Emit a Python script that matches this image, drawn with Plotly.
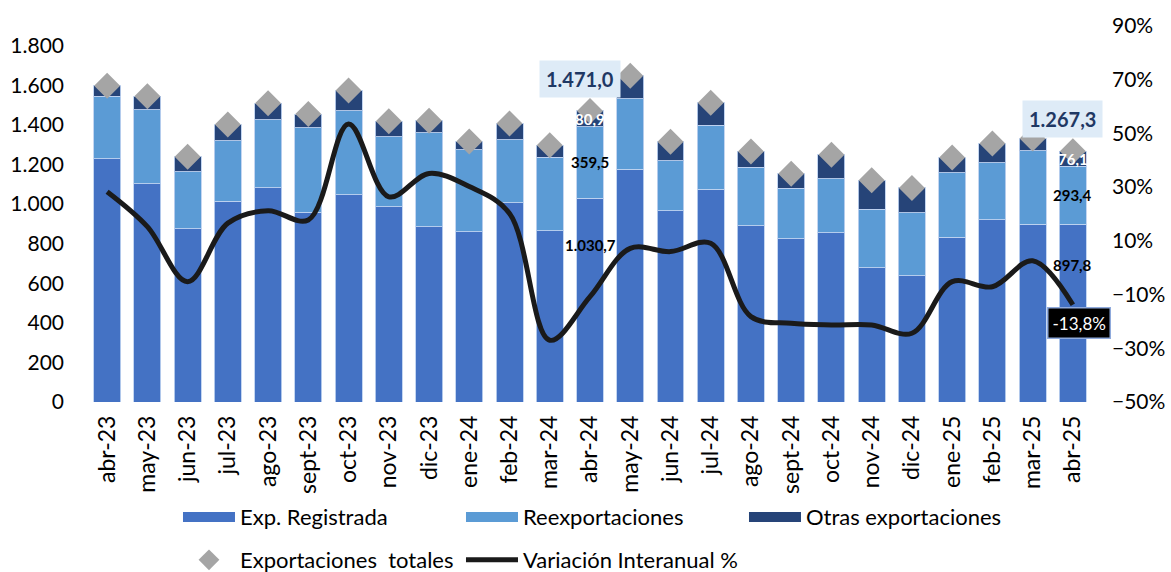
import plotly.graph_objects as go

meses = ["abr-23", "may-23", "jun-23", "jul-23", "ago-23", "sept-23", "oct-23", "nov-23", "dic-23",
         "ene-24", "feb-24", "mar-24", "abr-24", "may-24", "jun-24", "jul-24", "ago-24", "sept-24",
         "oct-24", "nov-24", "dic-24", "ene-25", "feb-25", "mar-25", "abr-25"]

exp_registrada = [1229, 1104, 876, 1015, 1083, 959, 1048, 987, 886, 861, 1008, 866, 1030.7,
                  1175, 967, 1075, 891, 826, 856, 679, 639, 833, 922, 898, 897.8]
reexportaciones = [316, 372, 287, 306, 343, 426, 423, 353, 474, 413, 317, 371, 359.5,
                   357, 253, 324, 296, 254, 271, 295, 317, 326, 286, 371, 293.4]
otras_exp = [53, 69, 76, 81, 84, 70, 103, 79, 61, 42, 82, 61, 80.9,
             116, 95, 113, 79, 73, 122, 147, 126, 76, 98, 62, 76.1]
variacion = [28.3, 15.3, -5.2, 16.6, 21.2, 17.8, 53.5, 26.4, 35.1, 30.2, 20.2, -27.0, -10.8,
             7.2, 6.0, 9.1, -18.2, -20.7, -21.3, -21.3, -24.4, -5.2, -7.1, 2.6, -13.8]

# meses etiquetados y total publicado
meses_etiqueta = ["abr-24", "abr-25"]
total_publicado = [1471.0, 1267.3]

totales = [a + b + c for a, b, c in zip(exp_registrada, reexportaciones, otras_exp)]

FONT = "Lato"
C_REG = "#4472C4"
C_REEX = "#5B9BD5"
C_OTRAS = "#264478"
edge = dict(color="rgba(190,210,240,0.9)", width=1)


def fmt(v):
    return f"{v:,.1f}".replace(",", "X").replace(".", ",").replace("X", ".")


fig = go.Figure()

for name, vals, col in [("Exp. Registrada", exp_registrada, C_REG),
                        ("Reexportaciones", reexportaciones, C_REEX),
                        ("Otras exportaciones", otras_exp, C_OTRAS)]:
    fig.add_trace(go.Bar(x=meses, y=vals, name=name, marker=dict(color=col, line=edge),
                         showlegend=False))

fig.add_trace(go.Scatter(x=meses, y=totales, mode="markers", name="Exportaciones  totales",
                         marker=dict(symbol="diamond", size=20, color="#A5A5A5"),
                         legend="legend2"))
fig.add_trace(go.Scatter(x=meses, y=variacion, mode="lines", name="Variación Interanual %",
                         yaxis="y2", line=dict(color="#1A1A1A", width=5, shape="spline", smoothing=1),
                         legend="legend2"))

# legend entries for the bars (wide swatches)
for name, col in [("Exp. Registrada", C_REG), ("Reexportaciones", C_REEX),
                  ("Otras exportaciones", C_OTRAS)]:
    fig.add_trace(go.Scatter(x=[None], y=[None], mode="lines", name=name,
                             line=dict(color=col, width=18), legend="legend"))

# data labels for abr-24 and abr-25
for m, tot in zip(meses_etiqueta, total_publicado):
    i = meses.index(m)
    reg, rex, otr = exp_registrada[i], reexportaciones[i], otras_exp[i]
    fig.add_annotation(x=m, y=reg * 0.77, text="<b>" + fmt(reg) + "</b>", showarrow=False,
                       font=dict(size=15, color="black", family=FONT))
    fig.add_annotation(x=m, y=reg + rex / 2, text="<b>" + fmt(rex) + "</b>", showarrow=False,
                       font=dict(size=15, color="black", family=FONT))
    fig.add_annotation(x=m, y=reg + rex + otr / 2, text="<b>" + fmt(otr) + "</b>",
                       showarrow=False, font=dict(size=15, color="white", family=FONT))
    fig.add_annotation(x=m, y=totales[i], text="<b>" + fmt(tot) + "</b>",
                       showarrow=False, yshift=32, xshift=-10, bgcolor="#DEEBF7",
                       borderpad=6, font=dict(size=20, color="#1F3864", family=FONT))

fig.add_annotation(x=meses[-1], y=variacion[-1], yref="y2",
                   text=f"{variacion[-1]:.1f}%".replace(".", ","), showarrow=False,
                   yshift=-18, xshift=6, bgcolor="black", bordercolor="#8FAADC", borderwidth=1.5,
                   borderpad=4, font=dict(size=17, color="white", family=FONT))

leg_common = dict(orientation="h", xanchor="left", yanchor="middle", xref="container",
                  yref="container", entrywidth=216, entrywidthmode="pixels", itemwidth=52,
                  traceorder="normal",
                  font=dict(size=22, color="black", family=FONT), bgcolor="rgba(0,0,0,0)")

fig.update_layout(
    width=1171,
    height=572,
    barmode="stack",
    bargap=0.33,
    separators=",.",
    plot_bgcolor="white",
    paper_bgcolor="white",
    margin=dict(l=87, r=78, t=26, b=170, autoexpand=False),
    font=dict(family=FONT, size=20, color="black"),
    xaxis=dict(tickangle=-90, showgrid=False, ticks="", showline=False, automargin=False,
               range=[-0.5, len(meses) - 0.5], tickfont=dict(size=23), ticklabelstandoff=8),
    yaxis=dict(range=[0, 1900], dtick=200, tickformat=",d", showgrid=False, zeroline=False,
               automargin=False, ticklabelstandoff=22, tickfont=dict(size=21)),
    yaxis2=dict(range=[-50, 90], tick0=10, dtick=20, ticksuffix="%", overlaying="y", side="right",
                showgrid=False, zeroline=False, automargin=False, ticklabelstandoff=18,
                tickfont=dict(size=21)),
    legend=dict(x=0.152, y=0.096, **leg_common),
    legend2=dict(x=0.152, y=0.021, **leg_common),
)

fig.write_html("out.html", config={"displayModeBar": False},
               post_script="document.body.style.margin='0';")
